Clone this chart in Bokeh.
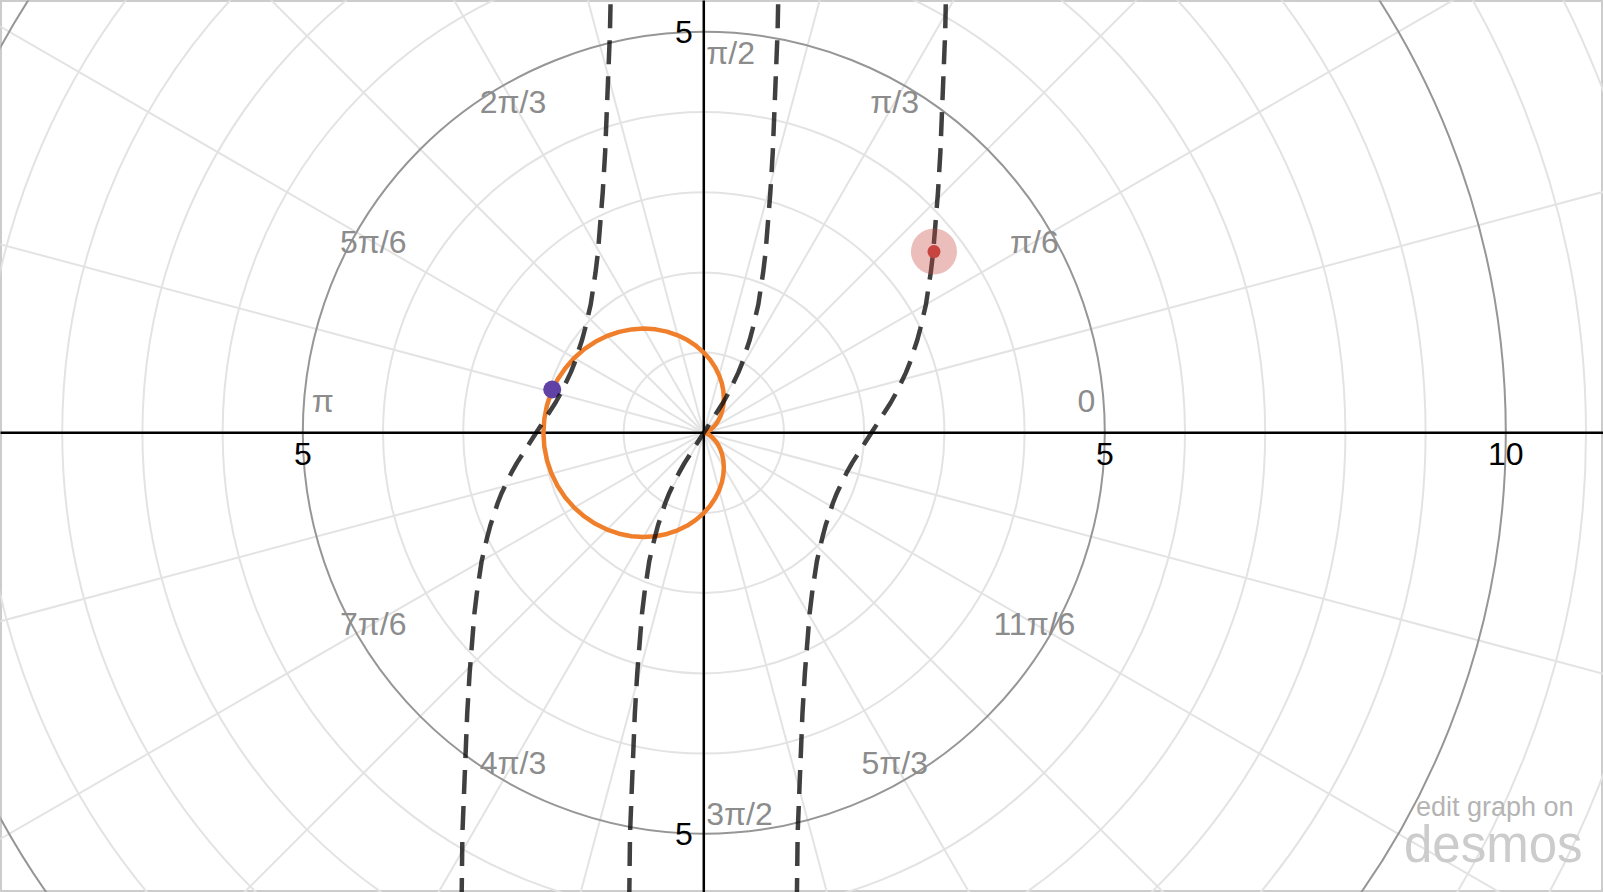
import math
from bokeh.plotting import figure
from bokeh.models import Range1d, Label
from bokeh.core.properties import value
from bokeh.embed import file_html
from bokeh.resources import INLINE

# ---- data ----
cardioid_theta_deg = [0, 5, 10, 15, 20, 25, 30, 35, 40, 45, 50, 55, 60, 65, 70, 75, 80, 85, 90,
                      95, 100, 105, 110, 115, 120, 125, 130, 135, 140, 145, 150, 155, 160, 165, 170, 175, 180,
                      185, 190, 195, 200, 205, 210, 215, 220, 225, 230, 235, 240, 245, 250, 255, 260, 265, 270,
                      275, 280, 285, 290, 295, 300, 305, 310, 315, 320, 325, 330, 335, 340, 345, 350, 355, 360]
cardioid_r = [0.0, 0.004, 0.015, 0.034, 0.060, 0.094, 0.134, 0.181, 0.234, 0.293, 0.357, 0.426, 0.500,
              0.577, 0.658, 0.741, 0.826, 0.913, 1.000, 1.087, 1.174, 1.259, 1.342, 1.423, 1.500, 1.574,
              1.643, 1.707, 1.766, 1.819, 1.866, 1.906, 1.940, 1.966, 1.985, 1.996, 2.000,
              1.996, 1.985, 1.966, 1.940, 1.906, 1.866, 1.819, 1.766, 1.707, 1.643, 1.574, 1.500, 1.423,
              1.342, 1.259, 1.174, 1.087, 1.000, 0.913, 0.826, 0.741, 0.658, 0.577, 0.500, 0.426, 0.357,
              0.293, 0.234, 0.181, 0.134, 0.094, 0.060, 0.034, 0.015, 0.004, 0.0]

dash_y = [-5.85, -5.0, -4.0, -3.5, -3.0, -2.5, -2.25, -2.0, -1.8, -1.6, -1.45, -1.3, -1.15, -1.0,
          -0.875, -0.75, -0.625, -0.5, -0.375, -0.25, -0.125, 0.0,
          0.125, 0.25, 0.375, 0.5, 0.625, 0.75, 0.875, 1.0, 1.15, 1.3, 1.45, 1.6, 1.8, 2.0,
          2.25, 2.5, 3.0, 3.5, 4.0, 5.0, 5.5]
dash_mid_x = [-0.93, -0.92, -0.88, -0.86, -0.83, -0.79, -0.77, -0.74, -0.71, -0.68, -0.645, -0.61, -0.57,
              -0.52, -0.48, -0.43, -0.37, -0.31, -0.24, -0.16, -0.08, 0.0,
              0.08, 0.16, 0.24, 0.31, 0.37, 0.43, 0.48, 0.52, 0.57, 0.61, 0.645, 0.68, 0.71, 0.74,
              0.77, 0.79, 0.83, 0.86, 0.88, 0.92, 0.93]
dash_right_x = [1.16, 1.17, 1.21, 1.23, 1.26, 1.30, 1.32, 1.35, 1.38, 1.41, 1.445, 1.48, 1.52, 1.57,
                1.61, 1.66, 1.72, 1.78, 1.85, 1.93, 2.01, 2.09,
                2.17, 2.25, 2.33, 2.40, 2.46, 2.52, 2.57, 2.61, 2.66, 2.70, 2.735, 2.77, 2.80, 2.83,
                2.86, 2.88, 2.92, 2.95, 2.97, 3.01, 3.02]
dash_left_x = [-3.02, -3.01, -2.97, -2.95, -2.92, -2.88, -2.86, -2.83, -2.80, -2.77, -2.735, -2.70, -2.66,
               -2.61, -2.57, -2.52, -2.46, -2.40, -2.33, -2.25, -2.17, -2.09,
               -2.01, -1.93, -1.85, -1.78, -1.72, -1.66, -1.61, -1.57, -1.52, -1.48, -1.445, -1.41, -1.38,
               -1.35, -1.32, -1.30, -1.26, -1.23, -1.21, -1.17, -1.16]

purple_pt = (-1.89, 0.54)
red_pt = (2.87, 2.26)

circle_radii = [1, 2, 3, 4, 6, 7, 8, 9, 11, 12, 13, 14]
major_radii = [5, 10]
angle_labels = ["0", "π/6", "π/3", "π/2", "2π/3", "5π/6", "π", "7π/6", "4π/3", "3π/2", "5π/3", "11π/6"]
x_tick_vals = [-5, 5, 10]
x_tick_text = ["5", "5", "10"]
y_tick_vals = [5, -5]
y_tick_text = ["5", "5"]

# ---- figure ----
W, H = 1603, 892
OX, OY, S = 703.3, 432.3, 80.2   # pixel position of origin and pixels per unit
p = figure(width=W, height=H,
           x_range=Range1d(-OX / S, (W - OX) / S), y_range=Range1d((OY - H) / S, OY / S),
           output_backend="svg", toolbar_location=None, min_border=0,
           x_axis_type=None, y_axis_type=None)
p.outline_line_color = "#cccccc"
p.outline_line_width = 3
p.background_fill_color = "white"
p.border_fill_color = "white"

FONT = value("Liberation Sans")
FS = value("32px")
MINOR = "#e3e3e3"

# radial grid lines
ray_angles = [k * math.pi / 12 for k in range(24)]
p.ray(x=[0] * 24, y=[0] * 24, length=0, angle=ray_angles, line_color=MINOR, line_width=2)
# minor circles
p.circle(x=[0] * len(circle_radii), y=[0] * len(circle_radii), radius=circle_radii,
         fill_color=None, line_color=MINOR, line_width=2)
# major circles
p.circle(x=[0] * len(major_radii), y=[0] * len(major_radii), radius=major_radii,
         fill_color=None, line_color="#969696", line_width=2)

# axes
p.segment(x0=[-20, 0], y0=[0, -20], x1=[20, 0], y1=[0, 20], line_color="black", line_width=2.5)

# angle labels
R = 4.76
lx, ly, la = [], [], []
for k, t in enumerate(angle_labels):
    th = k * math.pi / 6
    if k == 0:
        x, y, a = 4.77, 0.40, "center"
    elif k == 6:
        x, y, a = -4.75, 0.40, "center"
    elif k == 3:
        x, y, a = 0.03, 4.74, "left"
    elif k == 9:
        x, y, a = 0.03, -4.75, "left"
    else:
        x, y, a = R * math.cos(th), R * math.sin(th), "center"
    lx.append(x); ly.append(y); la.append(a)
p.text(x=lx, y=ly, text=angle_labels, text_align=la, text_baseline="middle",
       text_font=FONT, text_font_size=FS, text_color="#8c8c8c")

# axis numbers
p.text(x=x_tick_vals, y=[0] * len(x_tick_vals), text=x_tick_text, text_align="center",
       text_baseline="middle", y_offset=21, text_font=FONT, text_font_size=FS,
       text_color="black")
p.text(x=[0] * len(y_tick_vals), y=y_tick_vals, text=y_tick_text, text_align="right",
       text_baseline="middle", x_offset=-11, text_font=FONT, text_font_size=FS,
       text_color="black")

# cardioid
cx = [r * math.cos(math.radians(t)) for r, t in zip(cardioid_r, cardioid_theta_deg)]
cy = [r * math.sin(math.radians(t)) for r, t in zip(cardioid_r, cardioid_theta_deg)]
p.line(cx, cy, line_color="#f07f2c", line_width=4.5, line_join="round")

# purple point
p.scatter([purple_pt[0]], [purple_pt[1]], size=18, fill_color="#6042a6", line_color=None)

# dashed curves
for xs in (dash_left_x, dash_mid_x, dash_right_x):
    p.line(xs, dash_y, line_color="black", line_alpha=0.75, line_width=4.5, line_dash="24 12",
           line_join="round")

# red point with halo
p.scatter([red_pt[0]], [red_pt[1]], size=46, fill_color="#c74440", fill_alpha=0.35, line_color=None)
p.scatter([red_pt[0]], [red_pt[1]], size=13, fill_color="#c74440", line_color=None)

# watermark
p.add_layout(Label(x=1573, y=86, x_units="screen", y_units="screen", text="edit graph on",
                   text_align="right", text_baseline="alphabetic", text_font="Liberation Sans",
                   text_font_size="27px", text_color="#b4b4b4"))
p.add_layout(Label(x=1582, y=48, x_units="screen", y_units="screen", text="desmos",
                   text_align="right", text_baseline="alphabetic", text_font="Liberation Sans",
                   text_font_size="51px", text_color="#cccccc"))

open("out.html", "w").write(file_html(p, INLINE))
